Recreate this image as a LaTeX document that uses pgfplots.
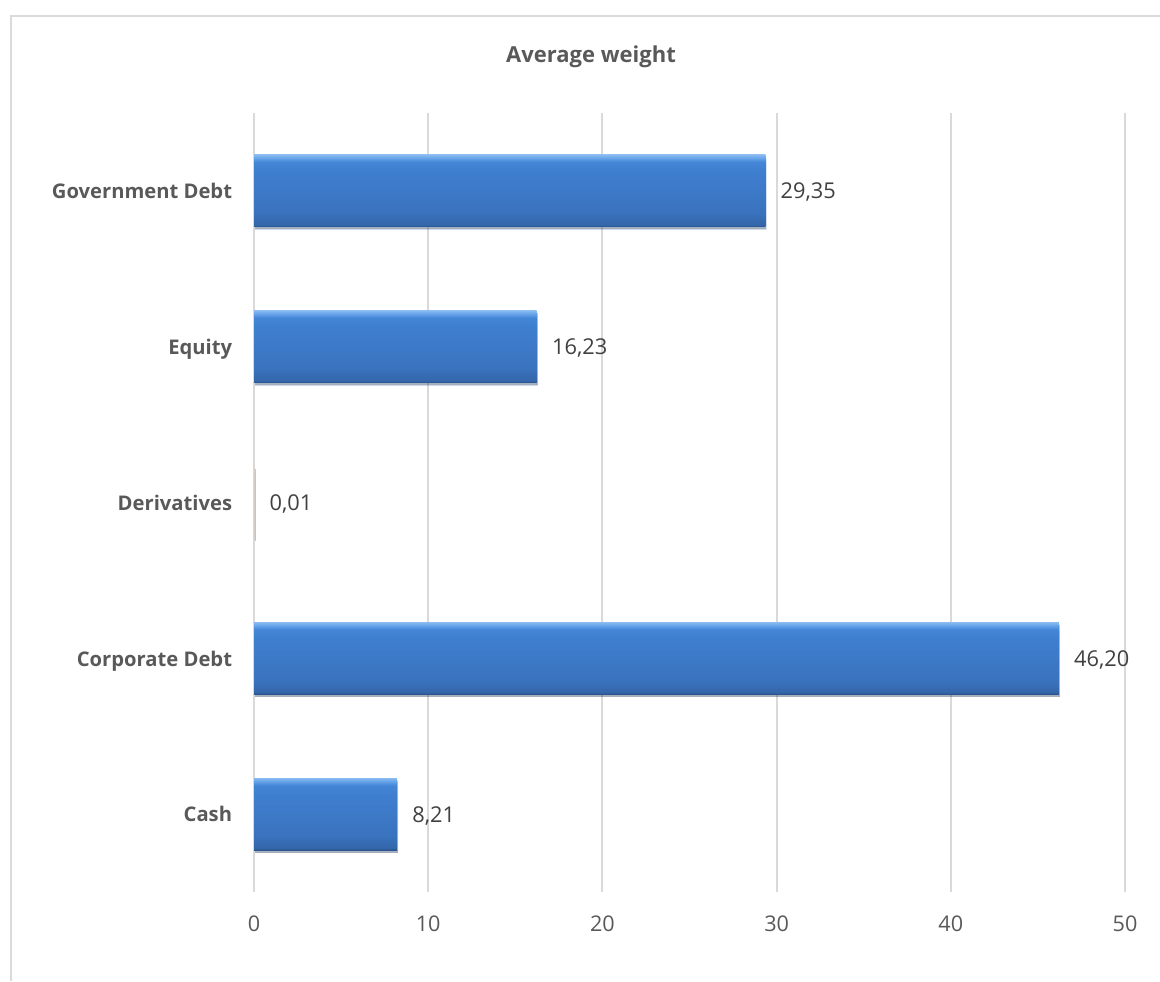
\documentclass[border=0pt]{standalone}
\usepackage{fontspec}
\setmainfont{Open Sans}
\usepackage{pgfplots}
\pgfplotsset{compat=1.18}
\usetikzlibrary{shadows}
\definecolor{gridgray}{HTML}{D9D9D9}
\definecolor{framegray}{HTML}{DADADA}
\definecolor{labelgray}{HTML}{595959}
\definecolor{valgray}{HTML}{404040}
% bevelled bar fill: dark lower edge, blue body, light upper rim
\pgfdeclareverticalshading{barshade}{100bp}{%
  color(0bp)=(rgb,255:red,42;green,84;blue,140);
  color(25bp)=(rgb,255:red,42;green,84;blue,140);
  color(26.5bp)=(rgb,255:red,52;green,102;blue,170);
  color(35bp)=(rgb,255:red,58;green,115;blue,190);
  color(64bp)=(rgb,255:red,63;green,127;blue,208);
  color(70bp)=(rgb,255:red,68;green,134;blue,214);
  color(72.5bp)=(rgb,255:red,98;green,160;blue,232);
  color(75bp)=(rgb,255:red,135;green,186;blue,240);
  color(100bp)=(rgb,255:red,135;green,186;blue,240)}
\begin{document}
\begin{tikzpicture}[x=1pt,y=1pt]
\useasboundingbox (0,0) rectangle (580,490.5);
% chart frame
\draw[framegray, line width=1pt] (5.5,0) -- (5.5,482.5) -- (580,482.5);
\node[text=labelgray, font=\fontsize{11}{14}\selectfont\bfseries] at (295.5,462) {Average weight};
\begin{axis}[
  at={(127pt,44.5pt)}, anchor=south west,
  scale only axis, width=435.5pt, height=389.5pt,
  xmin=0, xmax=50, ymin=-0.5, ymax=4.5,
  xbar, bar width=36pt, bar shift=0pt,
  axis line style={draw=none},
  xmajorgrids, grid style={gridgray, line width=1pt},
  tick style={draw=none},
  xtick={0,10,...,50},
  ytick={0,1,2,3,4},
  yticklabels={Cash, Corporate Debt, Derivatives, Equity, Government Debt},
  /pgf/number format/assume math mode=true,
  tick label style={font=\fontsize{10.8}{14}\selectfont, text=labelgray, inner sep=0pt},
  xticklabel style={anchor=base, yshift=-19.5pt},
  yticklabel style={anchor=base east, xshift=-6.5pt, yshift=-3.9pt, font=\fontsize{10.1}{14}\selectfont\bfseries},
  nodes near coords,
  nodes near coords style={anchor=base west, xshift=7.5pt, yshift=-4pt, inner sep=0pt,
    text=valgray, font=\fontsize{10.9}{14}\selectfont,
    /pgf/number format/.cd, fixed, fixed zerofill, precision=2, use comma, assume math mode=true},
  every axis plot/.append style={draw=none, shading=barshade,
    drop shadow={shadow xshift=0.5pt, shadow yshift=-1.2pt, opacity=0.22, fill=black}},
]
\addplot coordinates {(8.21,0)};
\addplot coordinates {(46.20,1)};
\addplot coordinates {(0.01,2)};
\addplot coordinates {(16.23,3)};
\addplot coordinates {(29.35,4)};
\end{axis}
\end{tikzpicture}
\end{document}
